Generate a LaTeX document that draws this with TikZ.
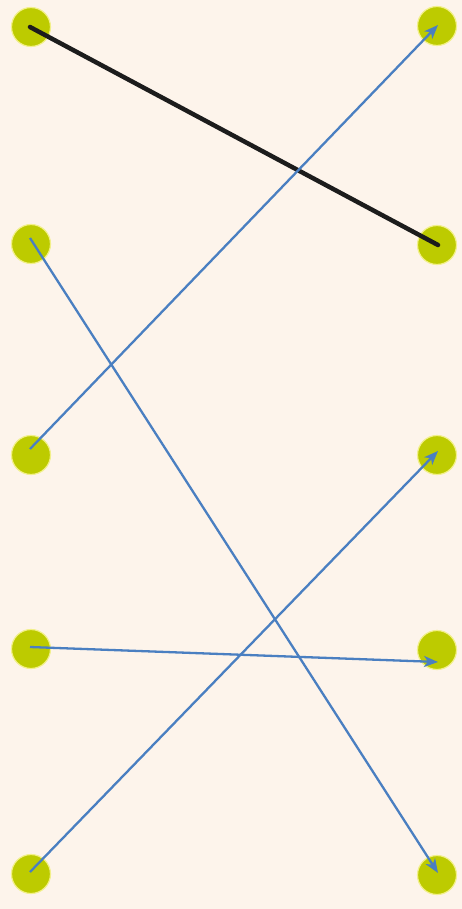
\documentclass[tikz,border=0pt]{standalone}
\usetikzlibrary{arrows.meta}
\definecolor{bg}{HTML}{FDF4EB}
\definecolor{dotfill}{HTML}{BDCB00}
\definecolor{halo}{HTML}{F2F08A}
\definecolor{linkblue}{HTML}{4A7FC1}
\definecolor{linkblack}{HTML}{1C1C1C}
\tikzset{
  dot/.style={circle, fill=dotfill, draw=halo, line width=1.2pt, minimum size=39pt, inner sep=0pt},
  bluelink/.style={draw=linkblue, line width=2.3pt, -{Stealth[length=14pt,width=11pt,inset=4pt]}},
  blacklink/.style={draw=linkblack, line width=4.5pt, line cap=round}
}
\begin{document}
\begin{tikzpicture}[x=1pt,y=-1pt]
\fill[bg] (0,0) rectangle (462,909);
\useasboundingbox (0,0) rectangle (462,909);
% left column
\node[dot] (L1) at (31,27) {};
\node[dot] (L2) at (31,244) {};
\node[dot] (L3) at (31,455) {};
\node[dot] (L4) at (31,649) {};
\node[dot] (L5) at (31,874) {};
% right column
\node[dot] (R1) at (437,26) {};
\node[dot] (R2) at (437,245) {};
\node[dot] (R3) at (437,455) {};
\node[dot] (R4) at (437,650) {};
\node[dot] (R5) at (437,875) {};
% connectors
\draw[blacklink] ([xshift=-1pt]L1.center) -- ([xshift=1pt]R2.center);
\draw[bluelink] ([xshift=-1pt,yshift=6pt]L3.center) -- ([xshift=1pt,yshift=1pt]R1.center);
\draw[bluelink] ([xshift=-1pt,yshift=6pt]L2.center) -- ([xshift=1pt,yshift=2pt]R5.center);
\draw[bluelink] ([xshift=-1pt,yshift=2pt]L5.center) -- ([xshift=1pt,yshift=4pt]R3.center);
\draw[bluelink] ([xshift=-1pt,yshift=2pt]L4.center) -- ([xshift=1pt,yshift=-12pt]R4.center);
\end{tikzpicture}
\end{document}
